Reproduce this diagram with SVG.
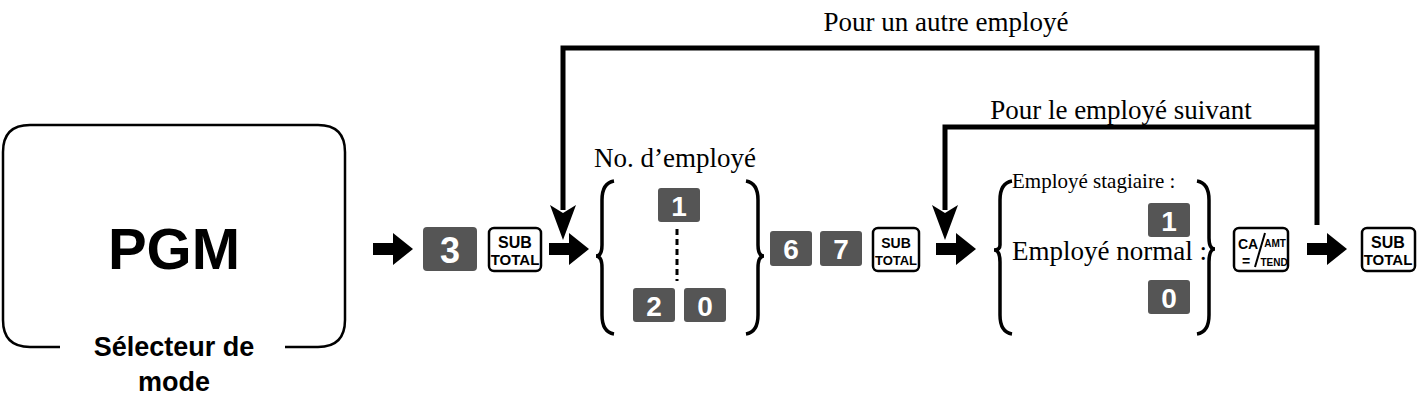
<svg xmlns="http://www.w3.org/2000/svg" width="1423" height="407" viewBox="0 0 1423 407">
<style>
.k{fill:#555;}
.kt{fill:#fff;font-family:"Liberation Sans",Arial,sans-serif;font-weight:bold;text-anchor:middle;}
.ok{fill:#fff;stroke:#000;stroke-width:2.5;}
.ot{font-family:"Liberation Sans",Arial,sans-serif;font-weight:bold;text-anchor:middle;}
.ser{font-family:"Liberation Serif","Times New Roman",serif;}
.br{fill:none;stroke:#000;stroke-width:3.5;}
.ln{fill:none;stroke:#000;stroke-width:5;}
.ct{font-family:"Liberation Sans",Arial,sans-serif;font-weight:bold;text-anchor:middle;}
</style>
<defs>
<path id="ba" d="M0,-6 H20 V-16 L40,0 L20,16 V6 H0 Z" fill="#000"/>
</defs>
<g id="mode">
<path d="M60,347 H30 Q3,347 3,320 V152 Q3,125 30,125 H318 Q345,125 345,152 V320 Q345,347 318,347 H285" fill="none" stroke="#000" stroke-width="2.5"/>
<text x="174" y="269" font-family="'Liberation Sans',Arial,sans-serif" font-weight="bold" font-size="58" text-anchor="middle">PGM</text>
<text x="174" y="356" font-family="'Liberation Sans',Arial,sans-serif" font-weight="bold" font-size="27" text-anchor="middle">Sélecteur de</text>
<text x="174" y="391" font-family="'Liberation Sans',Arial,sans-serif" font-weight="bold" font-size="27" text-anchor="middle">mode</text>
</g>
<g id="connectors">
<use href="#ba" x="373" y="249"/>
<use href="#ba" x="549" y="249"/>
<use href="#ba" x="936" y="249"/>
<use href="#ba" x="1307" y="249"/>
<path class="ln" d="M1317,225 V48 H563 V210"/>
<path d="M550,205 L563,240 L576,205 L563,213 Z"/>
<path class="ln" d="M1317,127 H945 V210"/>
<path d="M932,205 L945,240 L958,205 L945,213 Z"/>
<line x1="677" y1="229" x2="677" y2="281" stroke="#000" stroke-width="3" stroke-dasharray="6,4"/>
</g>
<g id="labels">
<text class="ser" x="946" y="31" text-anchor="middle" style="font-size:27px">Pour un autre employé</text>
<text class="ser" x="1121" y="119" text-anchor="middle" style="font-size:27px">Pour le employé suivant</text>
<text class="ser" x="594" y="167" style="font-size:27px">No. d’employé</text>
</g>
<g id="k3"><rect class="k" x="423" y="227" width="54" height="44" rx="4"/><text class="kt" x="450" y="263" style="font-size:36px">3</text></g>
<g id="st1"><rect class="ok" x="489" y="228" width="52" height="43" rx="5"/><text class="ot" x="515" y="248" style="font-size:16px">SUB</text><text class="ot" x="515" y="265" style="font-size:15px">TOTAL</text></g>
<g id="emp">
<path class="br" d="M614,181 Q602,183 602,200 V245 Q602,256 596,256 Q602,256 602,268 V315 Q602,332 614,334"/>
<rect class="k" x="658" y="188" width="42" height="34" rx="3"/><text class="kt" x="679" y="216" style="font-size:28px">1</text>
<rect class="k" x="633" y="288" width="42" height="34" rx="3"/><text class="kt" x="654" y="316" style="font-size:28px">2</text>
<rect class="k" x="684" y="288" width="42" height="34" rx="3"/><text class="kt" x="705" y="316" style="font-size:28px">0</text>
<path class="br" d="M746,181 Q758,183 758,200 V245 Q758,256 764,256 Q758,256 758,268 V315 Q758,332 746,334"/>
</g>
<g id="k6"><rect class="k" x="770" y="231" width="42" height="35" rx="3"/><text class="kt" x="791" y="259" style="font-size:28px">6</text></g>
<g id="k7"><rect class="k" x="820" y="231" width="42" height="35" rx="3"/><text class="kt" x="841" y="259" style="font-size:28px">7</text></g>
<g id="st2"><rect class="ok" x="873" y="228" width="46" height="43" rx="5"/><text class="ot" x="896" y="248" style="font-size:14px">SUB</text><text class="ot" x="896" y="265" style="font-size:13px">TOTAL</text></g>
<g id="type">
<path class="br" d="M1012,181 Q1000,183 1000,200 V245 Q1000,250 994,250 Q1000,250 1000,262 V315 Q1000,332 1012,334"/>
<text class="ser" x="1012" y="188" style="font-size:21px">Employé stagiaire :</text>
<rect class="k" x="1148" y="203" width="42" height="34" rx="3"/><text class="kt" x="1169" y="231" style="font-size:28px">1</text>
<text class="ser" x="1012" y="260" style="font-size:27px">Employé normal :</text>
<rect class="k" x="1148" y="280" width="42" height="34" rx="3"/><text class="kt" x="1169" y="308" style="font-size:28px">0</text>
<path class="br" d="M1197,181 Q1209,183 1209,200 V238 Q1209,249 1215,249 Q1209,249 1209,262 V315 Q1209,332 1197,334"/>
</g>
<g id="ca"><rect class="ok" x="1234" y="228" width="54" height="43" rx="5"/>
<text class="ct" x="1248" y="249" style="font-size:14px">CA</text>
<text class="ct" x="1246" y="266" style="font-size:14px">=</text>
<line x1="1265" y1="233" x2="1255" y2="267" stroke="#000" stroke-width="2"/>
<text class="ct" x="1275" y="247" style="font-size:10px">AMT</text>
<text class="ct" x="1274" y="266" style="font-size:10px">TEND</text>
</g>
<g id="st3"><rect class="ok" x="1362" y="228" width="53" height="43" rx="5"/><text class="ot" x="1388" y="248" style="font-size:16px">SUB</text><text class="ot" x="1388" y="265" style="font-size:15px">TOTAL</text></g>
</svg>
